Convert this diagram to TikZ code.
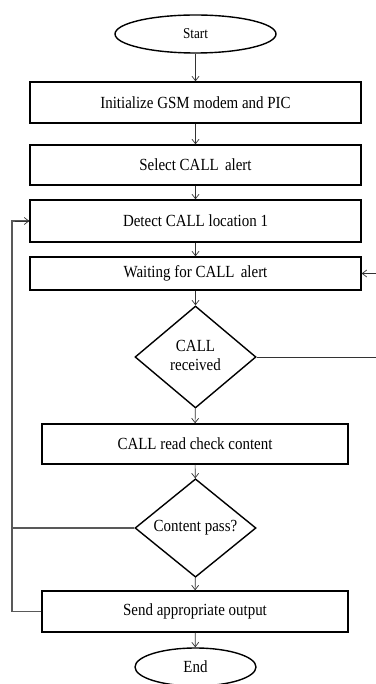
\documentclass[tikz,border=0pt]{standalone}
\usepackage{fontspec}
\setmainfont{Liberation Serif}
\usetikzlibrary{arrows.meta,%
                shapes.geometric}
\newcommand{\Squeeze}[1]{\scalebox{0.88}[1]{#1}}

\begin{document}
\begin{tikzpicture}[x=1pt, y=-1pt, >={Straight Barb[length=4.5pt,width=7pt]}]
    \tikzstyle{StepBox}=[draw, line width=1.4pt, rectangle, inner sep=0pt,
                         minimum height=40pt, font=\fontsize{17}{19}\selectfont]
    \tikzstyle{Decide}=[draw, line width=1.4pt, diamond, inner sep=0pt,
                        minimum width=121pt, font=\fontsize{17}{19}\selectfont]
    \tikzstyle{Term}=[draw, line width=1.4pt, ellipse, minimum height=38pt]
    \tikzstyle{Flow}=[->, line width=0.7pt, black!80]
    \tikzstyle{Back}=[line width=1.1pt, black!65]
    \useasboundingbox (0,0) rectangle (375,684);
    \node[Term, minimum width=161pt, font=\fontsize{15}{17}\selectfont] (start) at (195.5,34) {\Squeeze{Start}};
    \node[StepBox, minimum width=331pt, minimum height=41pt] (init) at (195.5,102.5) {\Squeeze{Initialize GSM modem and PIC}};
    \node[StepBox, minimum width=331pt] (select) at (195.5,165) {\Squeeze{Select CALL\, alert}};
    \node[StepBox, minimum width=331pt, minimum height=42pt] (detect) at (195.5,221) {\Squeeze{Detect CALL location 1}};
    \node[StepBox, minimum width=331pt, minimum height=33pt] (wait) at (195.5,273.5) {\Squeeze{Waiting for CALL\, alert}};
    \node[Decide, minimum height=102pt] (recv) at (195.5,357)
        {\Squeeze{\begin{tabular}{@{}c@{}}CALL\\received\end{tabular}}};
    \node[StepBox, minimum width=306pt] (read) at (195,444) {\Squeeze{CALL read check content}};
    \node[Decide, minimum height=96pt] (pass) at (195.5,528) {\Squeeze{Content pass?}};
    \node[StepBox, minimum width=306pt, minimum height=41pt] (send) at (195,611.5) {\Squeeze{Send appropriate output}};
    \node[Term, minimum width=121pt, font=\fontsize{17}{19}\selectfont] (end) at (195.5,667) {\Squeeze{End}};
    \coordinate (lx) at (12,0);
    \coordinate (rx) at (378,0);
    % main line
    \foreach \a/\b in {start/init, init/select, select/detect, detect/wait,
                       wait/recv, recv/read, read/pass, pass/send, send/end}
        \draw[Flow] (\a) -- (\b);
    % back to waiting
    \draw[Flow] (recv.east) -- (recv.east -| rx) |- (wait.east);
    % back to detect
    \draw[Back] (pass.west) -- (pass.west -| lx);
    \draw[Back] (send.west) -- (send.west -| lx) |- (detect.west);
    \draw[Flow] ([xshift=-14pt]detect.west) -- (detect.west);
\end{tikzpicture}
\end{document}
